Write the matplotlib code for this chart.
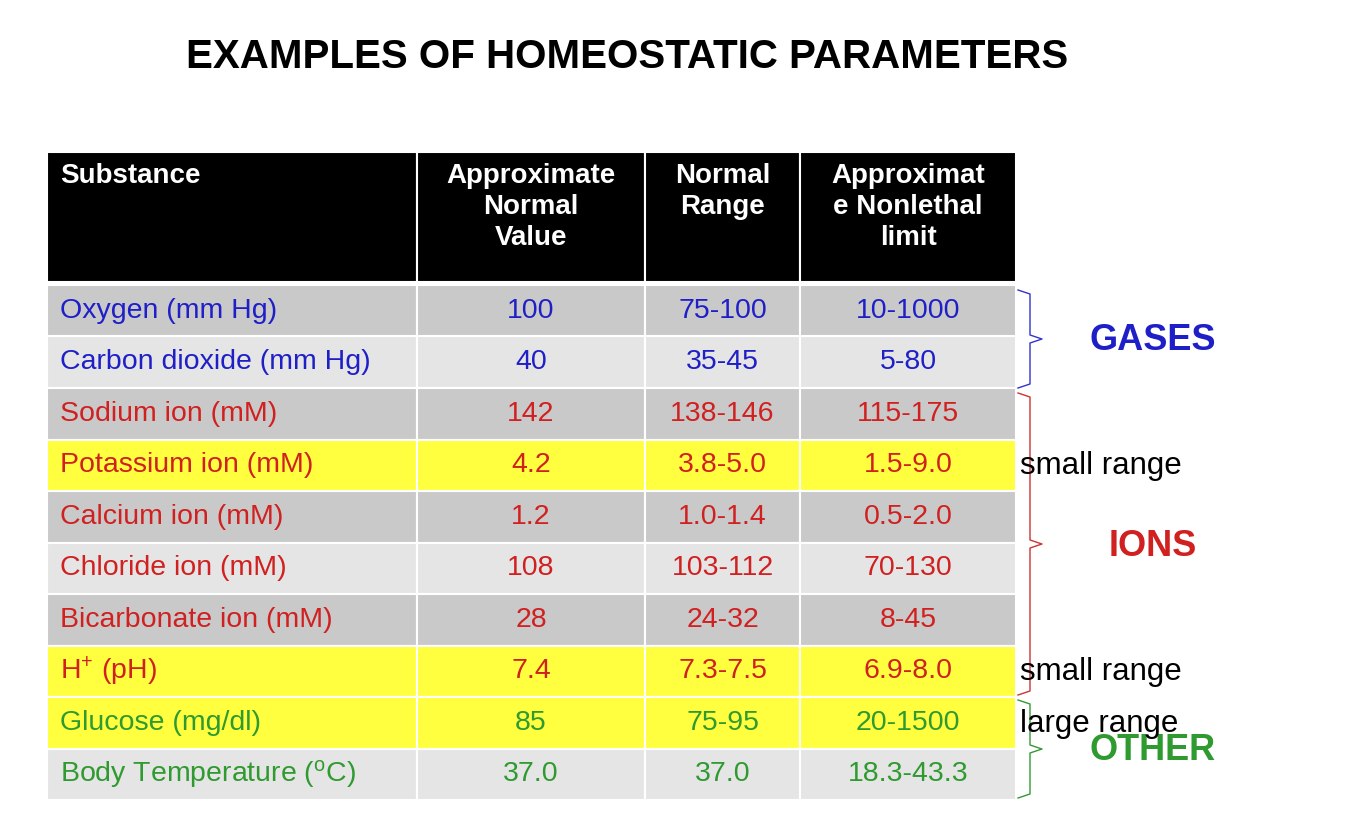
import matplotlib
matplotlib.use("Agg")
import matplotlib.pyplot as plt
from matplotlib.patches import Rectangle

headers = ["Substance", "Approximate\nNormal\nValue", "Normal\nRange", "Approximat\ne Nonlethal\nlimit"]
substances = ["Oxygen (mm Hg)", "Carbon dioxide (mm Hg)", "Sodium ion (mM)", "Potassium ion (mM)",
              "Calcium ion (mM)", "Chloride ion (mM)", "Bicarbonate ion (mM)", "H$^{+}$ (pH)",
              "Glucose (mg/dl)", "Body Temperature ($^{\\rm o}$C)"]
normal_value = ["100", "40", "142", "4.2", "1.2", "108", "28", "7.4", "85", "37.0"]
normal_range = ["75-100", "35-45", "138-146", "3.8-5.0", "1.0-1.4", "103-112", "24-32", "7.3-7.5", "75-95", "37.0"]
nonlethal = ["10-1000", "5-80", "115-175", "1.5-9.0", "0.5-2.0", "70-130", "8-45", "6.9-8.0", "20-1500", "18.3-43.3"]
groups = ["g", "g", "i", "i", "i", "i", "i", "i", "o", "o"]
row_bg = ["gray", "light", "gray", "yellow", "gray", "light", "gray", "yellow", "yellow", "light"]

plt.rcParams["font.family"] = "Liberation Sans"
plt.rcParams["mathtext.fontset"] = "custom"
plt.rcParams["mathtext.rm"] = "Liberation Sans"
plt.rcParams["mathtext.default"] = "regular"
fig = plt.figure(figsize=(13.46, 8.22), dpi=100)
ax = fig.add_axes([0, 0, 1, 1])
ax.set_xlim(0, 1346); ax.set_ylim(822, 0); ax.axis("off")

bgc = {"gray": "#c9c9c9", "light": "#e5e5e5", "yellow": "#ffff40"}
tc = {"g": "#1f1fc8", "i": "#d02020", "o": "#2f9a2f"}
cols = [47, 417, 645, 800, 1016]

ax.text(627, 57, "EXAMPLES OF HOMEOSTATIC PARAMETERS", ha="center", va="center",
        fontsize=29, fontweight="bold")

for j in range(4):
    ax.add_patch(Rectangle((cols[j], 152), cols[j+1]-cols[j], 130, fc="black", ec="white", lw=1.5))
    if j == 0:
        ax.text(cols[0]+13, 163, headers[0], ha="left", va="top", color="white", fontsize=20, fontweight="bold")
    else:
        ax.text((cols[j]+cols[j+1])/2, 163, headers[j], ha="center", va="top", color="white",
                fontsize=20, fontweight="bold", linespacing=1.25)

top, rh = 285, 51.5
for i in range(len(substances)):
    y0 = top + i*rh
    for j in range(4):
        ax.add_patch(Rectangle((cols[j], y0), cols[j+1]-cols[j], rh, fc=bgc[row_bg[i]], ec="white", lw=1.5))
    yc = y0 + rh/2
    c = tc[groups[i]]
    ax.text(cols[0]+13, yc, substances[i], ha="left", va="center", color=c, fontsize=20.5)
    for j, vals in zip([1, 2, 3], [normal_value, normal_range, nonlethal]):
        ax.text((cols[j]+cols[j+1])/2, yc, vals[i], ha="center", va="center", color=c, fontsize=20.5)

def brace(y1, y2, color):
    xm, w = 1030, 12
    ym = (y1+y2)/2
    ax.plot([1018, xm, xm, xm+w, xm, xm, 1018], [y1, y1+4, ym-4, ym, ym+4, y2-4, y2], color=color, lw=1)

brace(290, 388, "#3333cc")
brace(393, 695, "#cc3333")
brace(700, 798, "#339933")
ax.text(1153, 340, "GASES", ha="center", va="center", color="#1f1fc8", fontsize=26, fontweight="bold")
ax.text(1153, 546, "IONS", ha="center", va="center", color="#d02020", fontsize=26, fontweight="bold")
ax.text(1153, 750, "OTHER", ha="center", va="center", color="#2f9a2f", fontsize=26, fontweight="bold")
for y, t in [(466, "small range"), (672, "small range"), (724, "large range")]:
    ax.text(1020, y, t, ha="left", va="center", color="black", fontsize=22.5)

fig.savefig("out.png", dpi=100, facecolor="white")
